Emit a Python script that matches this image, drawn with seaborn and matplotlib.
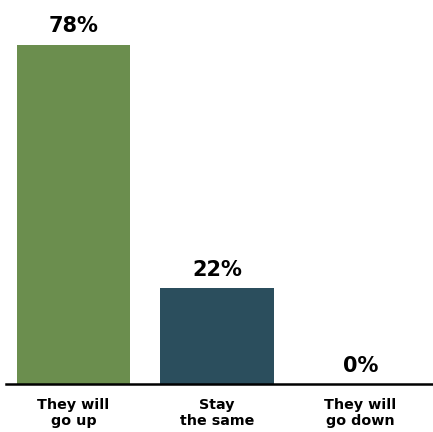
import matplotlib
matplotlib.use("Agg")
import matplotlib.pyplot as plt
import seaborn as sns
import pandas as pd

categories = ["They will\ngo up", "Stay\nthe same", "They will\ngo down"]
values = [78, 22, 0]
colors = ["#6b8e4e", "#2b4e5d", "#888888"]

sns.set_theme(style="white")
plt.rcParams["font.family"] = ["DejaVu Sans"]

df = pd.DataFrame({"answer": categories, "share": values})

fig = plt.figure(figsize=(4.33, 4.32), dpi=100)
ax = fig.add_axes([0.0, 48 / 432, 1.0, 384 / 432])

sns.barplot(data=df, x="answer", y="share", hue="answer", palette=colors,
            legend=False, width=0.79, saturation=1, linewidth=0,
            edgecolor="none", ax=ax)

ax.set_xlim(-0.512, 2.505)
ax.set_ylim(0, 88.3)

for i, v in enumerate(values):
    ax.annotate(f"{v}%", (i, v), xytext=(0, 6), textcoords="offset points",
                ha="center", va="bottom", fontsize=15, fontweight="bold",
                color="black")

for s in ["top", "left", "right"]:
    ax.spines[s].set_visible(False)
ax.spines["bottom"].set_color("black")
ax.spines["bottom"].set_linewidth(1.8)
ax.spines["bottom"].set_bounds(-0.47, 2.505)

ax.set_yticks([])
ax.set_xlabel("")
ax.set_ylabel("")
ax.tick_params(axis="x", length=0, pad=10)
for lbl in ax.get_xticklabels():
    lbl.set_fontsize(10.3)
    lbl.set_fontweight("bold")
    lbl.set_color("black")
    lbl.set_linespacing(1.2)

fig.savefig("out.png", dpi=100, facecolor="white")
